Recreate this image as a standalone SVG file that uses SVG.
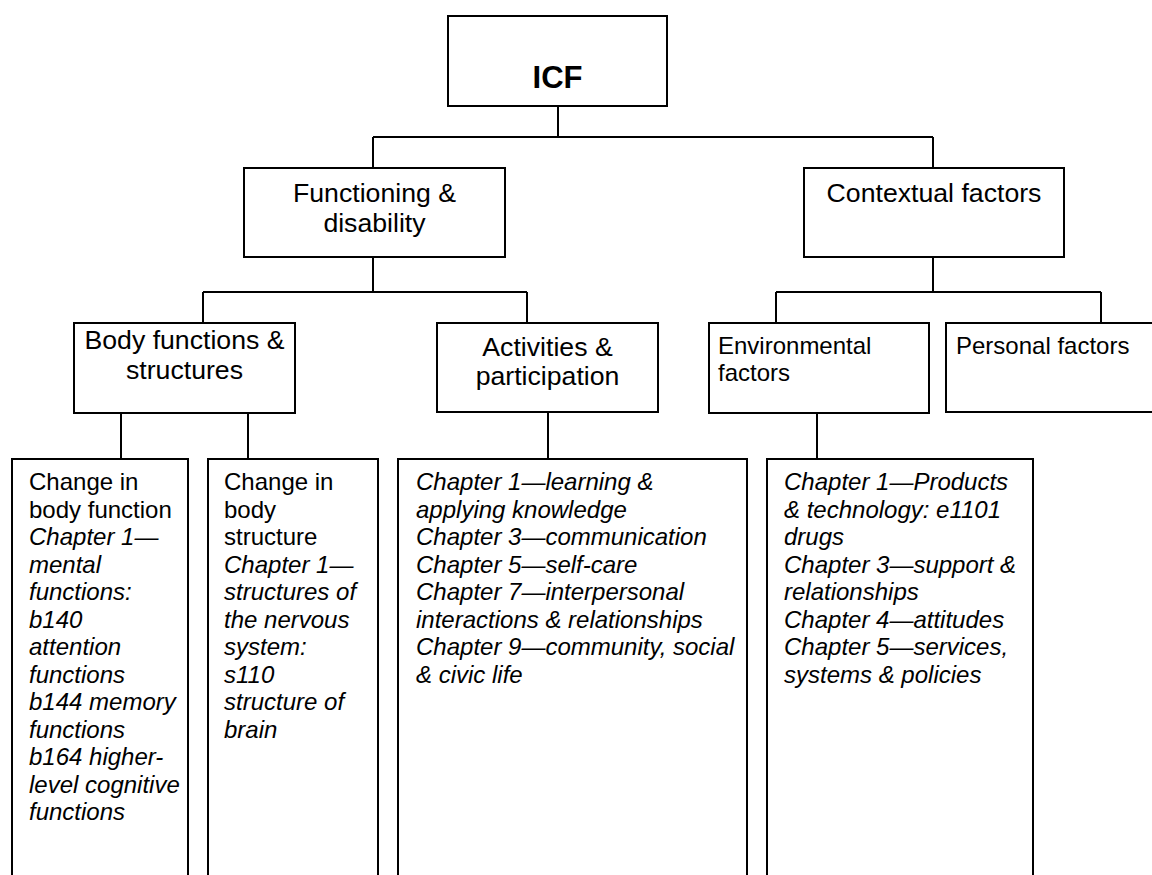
<svg xmlns="http://www.w3.org/2000/svg" width="1152" height="875" viewBox="0 0 1152 875">
<style>
.box{fill:#fff;stroke:#000;stroke-width:2}
.con{fill:none;stroke:#000;stroke-width:2}
.t{font-family:"Liberation Sans",Arial,sans-serif;fill:#000}
.h{font-size:26.67px}
.s{font-size:24px}
.c{text-anchor:middle}
.i{font-style:italic}
</style>
<rect width="1152" height="875" fill="#fff"/>
<g id="connectors">
<path class="con" d="M558 106V137M373 137H933M373 137V168M933 137V168"/>
<path class="con" d="M373 257V292M203 292H527M203 292V323M527 292V323"/>
<path class="con" d="M933 257V292M776 292H1101M776 292V323M1101 292V323"/>
<path class="con" d="M121 413V459M248 413V459M548 413V459M817 413V459"/>
</g>
<g id="icf">
<rect class="box" x="448" y="16" width="219" height="90"/>
<text class="t c" x="557.5" y="88" font-size="31" font-weight="bold">ICF</text>
</g>
<g id="functioning">
<rect class="box" x="244" y="168" width="261" height="89"/>
<text class="t h c" x="374.5" y="202">Functioning &amp;</text>
<text class="t h c" x="374.5" y="232">disability</text>
</g>
<g id="contextual">
<rect class="box" x="804" y="168" width="260" height="89"/>
<text class="t h c" x="934" y="202">Contextual factors</text>
</g>
<g id="body">
<rect class="box" x="74" y="323" width="221" height="90"/>
<text class="t h c" x="184.5" y="349">Body functions &amp;</text>
<text class="t h c" x="184.5" y="379">structures</text>
</g>
<g id="activities">
<rect class="box" x="437" y="323" width="221" height="89"/>
<text class="t h c" x="547.5" y="356">Activities &amp;</text>
<text class="t h c" x="547.5" y="385">participation</text>
</g>
<g id="environmental">
<rect class="box" x="709" y="323" width="220" height="90"/>
<text class="t s" x="718" y="354">Environmental</text>
<text class="t s" x="718" y="381">factors</text>
</g>
<g id="personal">
<rect class="box" x="946" y="323" width="216" height="89"/>
<text class="t s" x="956" y="354">Personal factors</text>
</g>
<g id="body-function">
<rect class="box" x="12" y="459" width="176" height="440"/>
<text class="t s" x="29" y="490">
<tspan x="29">Change in</tspan>
<tspan x="29" dy="27.5">body function</tspan>
<tspan x="29" dy="27.5" class="i">Chapter 1—</tspan>
<tspan x="29" dy="27.5" class="i">mental</tspan>
<tspan x="29" dy="27.5" class="i">functions:</tspan>
<tspan x="29" dy="27.5" class="i">b140</tspan>
<tspan x="29" dy="27.5" class="i">attention</tspan>
<tspan x="29" dy="27.5" class="i">functions</tspan>
<tspan x="29" dy="27.5" class="i">b144 memory</tspan>
<tspan x="29" dy="27.5" class="i">functions</tspan>
<tspan x="29" dy="27.5" class="i">b164 higher-</tspan>
<tspan x="29" dy="27.5" class="i">level cognitive</tspan>
<tspan x="29" dy="27.5" class="i">functions</tspan>
</text>
</g>
<g id="body-structure">
<rect class="box" x="208" y="459" width="170" height="440"/>
<text class="t s" x="224" y="490">
<tspan x="224">Change in</tspan>
<tspan x="224" dy="27.5">body</tspan>
<tspan x="224" dy="27.5">structure</tspan>
<tspan x="224" dy="27.5" class="i">Chapter 1—</tspan>
<tspan x="224" dy="27.5" class="i">structures of</tspan>
<tspan x="224" dy="27.5" class="i">the nervous</tspan>
<tspan x="224" dy="27.5" class="i">system:</tspan>
<tspan x="224" dy="27.5" class="i">s110</tspan>
<tspan x="224" dy="27.5" class="i">structure of</tspan>
<tspan x="224" dy="27.5" class="i">brain</tspan>
</text>
</g>
<g id="activities-chapters">
<rect class="box" x="398" y="459" width="349" height="440"/>
<text class="t s i" x="416" y="490">
<tspan x="416">Chapter 1—learning &amp;</tspan>
<tspan x="416" dy="27.5">applying knowledge</tspan>
<tspan x="416" dy="27.5">Chapter 3—communication</tspan>
<tspan x="416" dy="27.5">Chapter 5—self-care</tspan>
<tspan x="416" dy="27.5">Chapter 7—interpersonal</tspan>
<tspan x="416" dy="27.5">interactions &amp; relationships</tspan>
<tspan x="416" dy="27.5">Chapter 9—community, social</tspan>
<tspan x="416" dy="27.5">&amp; civic life</tspan>
</text>
</g>
<g id="environmental-chapters">
<rect class="box" x="767" y="459" width="266" height="440"/>
<text class="t s i" x="784" y="490">
<tspan x="784">Chapter 1—Products</tspan>
<tspan x="784" dy="27.5">&amp; technology: e1101</tspan>
<tspan x="784" dy="27.5">drugs</tspan>
<tspan x="784" dy="27.5">Chapter 3—support &amp;</tspan>
<tspan x="784" dy="27.5">relationships</tspan>
<tspan x="784" dy="27.5">Chapter 4—attitudes</tspan>
<tspan x="784" dy="27.5">Chapter 5—services,</tspan>
<tspan x="784" dy="27.5">systems &amp; policies</tspan>
</text>
</g>
</svg>
